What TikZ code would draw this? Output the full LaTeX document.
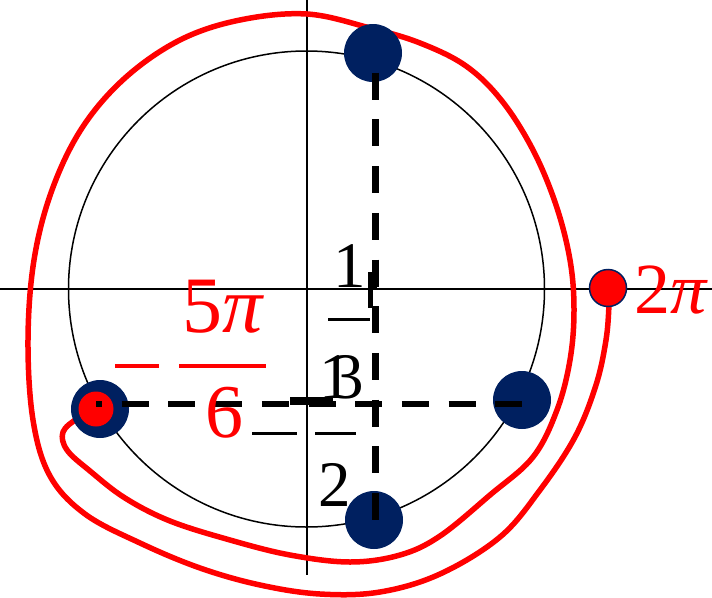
\documentclass[tikz,border=0pt]{standalone}
\usepackage{fontspec}
\setmainfont{Liberation Serif}
\definecolor{navy}{HTML}{002060}
\definecolor{pred}{HTML}{FF0000}
\begin{document}
\begin{tikzpicture}[x=1pt,y=-1pt,
  axisline/.style={line width=1.6pt, black},
  unitcirc/.style={line width=1.5pt, black},
  redpath/.style={line width=5.5pt, pred, line cap=round, line join=round},
  navydot/.style={circle, fill=navy, minimum size=58pt, inner sep=0pt},
  reddot/.style={circle, fill=pred, minimum size=35pt, inner sep=0pt},
  enddot/.style={circle, fill=pred, draw=navy, line width=1.5pt, minimum size=37pt, inner sep=0pt},
  guide/.style={line width=6.5pt, black, dash pattern=on 27pt off 19.7pt},
  blab/.style={inner sep=0pt, anchor=base, text=black, font=\fontsize{65}{65}\selectfont},
  rlab/.style={inner sep=0pt, anchor=base, text=pred, font=\fontsize{80}{80}\selectfont},
  bbar/.style={line width=3pt, black},
  rbar/.style={line width=4.5pt, pred}
]
\useasboundingbox (0,0) rectangle (712,597);
% axes
\draw[axisline] (0,289) -- (712,289);
\draw[axisline] (307,0) -- (307,575);
% unit circle
\draw[unitcirc] (306.5,289) circle[radius=238];
% red spiral path
\draw[redpath] plot[smooth, tension=0.6] coordinates {
 (96,409) (78,418) (63,432) (67,450) (90,471) (125,498) (170,521) (230,540)
 (290,555) (350,562) (400,555) (440,536) (490,495) (533,457) (557,410)
 (570,360) (574,310) (570,260) (556,205) (533,150) (502,101) (466,66)
 (420,43) (370,28) (307,14) (240,20) (180,40) (125,78) (82,128) (52,190)
 (34,260) (28,340) (33,420) (50,476) (85,514) (140,543) (200,568)
 (260,585) (320,594) (380,592) (440,574) (500,537) (540,490) (575,437)
 (596,385) (606,340) (609,305) (609,289)};
% points
\node[navydot] (ptop) at (373,53) {};
\node[navydot] (pright) at (522,400) {};
\node[navydot] (pbottom) at (374,520) {};
\node[navydot] (pleft) at (100,409) {};
\node[reddot] (pstart) at (96,409) {};
\node[enddot] (pend) at (608,288) {};
% dashed guides
\coordinate (vtop) at (375.5,53);
\coordinate (vbot) at (375.5,520);
\coordinate (hleft) at (96,404);
\coordinate (hright) at (522,404);
\draw[guide, dash phase=27pt] (vtop) -- (vbot);
\draw[guide, dash phase=21pt] (hleft) -- (hright);
\fill[black] (368,272) rectangle (377,288);
\fill[black] (368,290) rectangle (373,308);
% black labels
\node[blab] (one) at (350,287) {1};
\draw[bbar] (328,319) -- (370,319);
\node[blab] (three) at (348,398) {3};
\node[blab] (onebis) at (336,398) {1};
\draw[line width=8pt, black] (290,401) -- (333,401);
\draw[bbar] (252,433) -- (297,433);
\draw[bbar] (315,433) -- (356,433);
\node[blab] (two) at (335,506) {2};
% red labels
\node[rlab] (fivepi) at (223,332) {5\itshape π};
\draw[rbar] (115,366) -- (159,366);
\draw[rbar] (179,366) -- (266,366);
\node[rlab, font=\fontsize{76}{76}\selectfont] (six) at (224,437) {6};
\node[rlab, font=\fontsize{72}{72}\selectfont] (twopi) at (671,313) {2\itshape π};
\end{tikzpicture}
\end{document}
